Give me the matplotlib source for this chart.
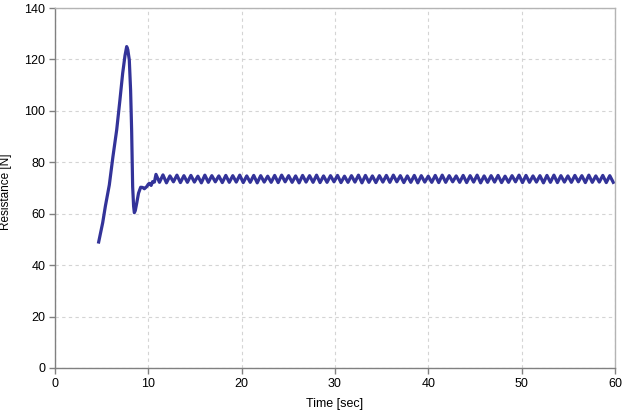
import numpy as np
import matplotlib
matplotlib.use("Agg")
import matplotlib.pyplot as plt

plt.rcParams['font.family'] = ['Liberation Sans', 'DejaVu Sans']

# start-up transient (time in sec, resistance in N)
ramp_t = [4.68, 5.11, 5.40, 5.82, 6.20, 6.61, 6.95, 7.25, 7.50, 7.68, 7.80, 7.96,
          8.10, 8.21, 8.32, 8.42, 8.50, 8.60, 8.75, 8.95, 9.18, 9.40, 9.57, 9.82,
          10.00, 10.11, 10.30, 10.46, 10.65]
ramp_y = [49.0, 56.5, 63.0, 71.2, 82.0, 92.6, 104.0, 114.6, 121.5, 125.0, 123.8, 119.8,
          108.0, 92.6, 70.5, 63.0, 60.4, 61.2, 64.0, 68.0, 70.3, 70.2, 69.7, 70.5,
          71.5, 71.8, 71.0, 72.5, 72.3]

# steady oscillation: alternating peak / trough values
osc_start = 10.82
half_period = 0.374
peaks = [75.3, 75.1, 74.7, 75.0, 74.8, 74.9, 74.6, 75.0, 74.8, 74.7,
         74.9, 74.8, 75.0, 74.7, 74.9, 74.8, 74.6, 74.9, 75.0, 74.8,
         74.7, 74.9, 74.8, 75.0, 74.7, 74.8, 74.9, 74.6, 74.8, 75.0,
         74.9, 74.7, 74.8, 74.9, 75.0, 74.8, 74.7, 74.9, 74.8, 74.6,
         74.9, 75.0, 74.8, 74.7, 74.9, 74.8, 75.0, 74.7, 74.8, 74.9,
         74.6, 74.8, 75.0, 74.9, 74.7, 74.8, 74.9, 75.0, 74.8, 74.7,
         74.9, 74.8, 75.0, 74.7, 74.9, 74.8]
troughs = [72.2, 72.0, 72.4, 72.1, 72.2, 72.3, 72.0, 72.2, 72.4, 72.1,
           72.2, 72.3, 72.1, 72.2, 72.0, 72.3, 72.2, 72.1, 72.4, 72.2,
           72.0, 72.3, 72.2, 72.1, 72.2, 72.4, 72.1, 72.2, 72.3, 72.0,
           72.2, 72.1, 72.3, 72.2, 72.4, 72.1, 72.2, 72.0, 72.3, 72.2,
           72.1, 72.2, 72.4, 72.2, 72.1, 72.3, 72.0, 72.2, 72.3, 72.1,
           72.2, 72.4, 72.1, 72.2, 72.3, 72.0, 72.2, 72.1, 72.3, 72.2,
           72.4, 72.1, 72.2, 72.3, 72.1, 72.2]

osc_y = []
for p, tr in zip(peaks, troughs):
    osc_y += [p, tr]
osc_t = [osc_start + half_period * k for k in range(len(osc_y))]

t = ramp_t + osc_t
y = ramp_y + osc_y

fig = plt.figure(figsize=(6.23, 4.2), dpi=100)
ax = fig.add_axes([55 / 623, 52 / 420, 560 / 623, 360 / 420])

ax.plot(t, y, color='#333399', linewidth=2.3, solid_joinstyle='round')

ax.set_xlim(0, 60)
ax.set_ylim(0, 140)
ax.set_xticks(range(0, 61, 10))
ax.set_yticks(range(0, 141, 20))

ax.grid(True, color='#d4d4d4', linestyle=(0, (3, 3)), linewidth=0.8)
ax.set_axisbelow(True)

for side in ['left', 'bottom']:
    ax.spines[side].set_color('#808080')
    ax.spines[side].set_linewidth(1.0)
for side in ['top', 'right']:
    ax.spines[side].set_color('#b4b4b4')
    ax.spines[side].set_linewidth(1.0)

ax.tick_params(direction='out', length=4, width=1, color='#808080',
               labelsize=9, pad=3)

ax.set_xlabel('Time [sec]', fontsize=9, labelpad=6)
ax.set_ylabel('Resistance [N]', fontsize=8.5)
ax.yaxis.set_label_coords(-0.077, 0.49)

fig.savefig('out.png', dpi=100)
